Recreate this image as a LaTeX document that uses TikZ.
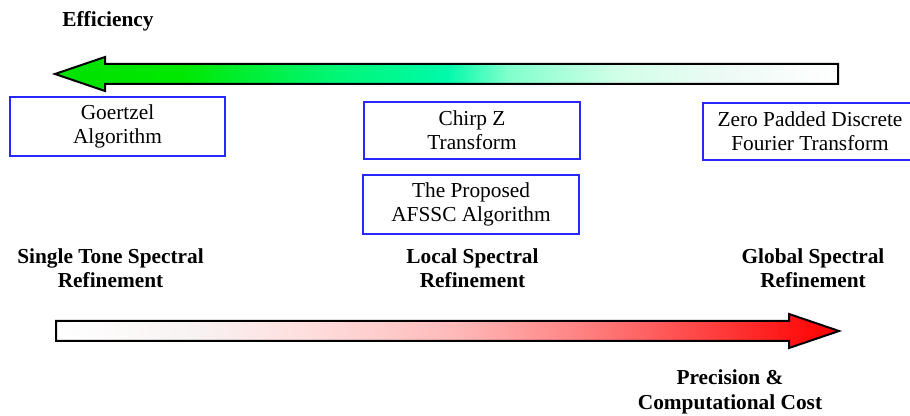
\documentclass[tikz,border=0pt]{standalone}
\usepackage{fontspec}
\setmainfont{Liberation Serif}
\definecolor{boxblue}{RGB}{40,40,250}
\definecolor{effA}{RGB}{0,225,0}
\definecolor{effB}{RGB}{0,232,0}
\definecolor{effC}{RGB}{0,245,110}
\definecolor{effD}{RGB}{0,250,170}
\definecolor{effE}{RGB}{130,255,205}
\definecolor{effF}{RGB}{210,255,232}
\definecolor{effG}{RGB}{238,250,246}
\definecolor{costA}{RGB}{248,242,242}
\definecolor{costB}{RGB}{255,222,222}
\definecolor{costC}{RGB}{255,185,185}
\definecolor{costD}{RGB}{255,130,130}
\definecolor{costE}{RGB}{255,70,70}
\definecolor{costF}{RGB}{255,20,20}
\definecolor{costG}{RGB}{255,0,0}
\pgfdeclarehorizontalshading{effshade}{100bp}{color(0bp)=(effA); color(25bp)=(effA); color(33bp)=(effB); color(42bp)=(effC); color(50bp)=(effD); color(54bp)=(effE); color(61bp)=(effF); color(68bp)=(effG); color(75bp)=(white); color(100bp)=(white)}
\pgfdeclarehorizontalshading{costshade}{100bp}{color(0bp)=(white); color(25bp)=(white); color(34bp)=(costA); color(41bp)=(costB); color(50.5bp)=(costC); color(58.5bp)=(costD); color(66bp)=(costE); color(72bp)=(costF); color(75bp)=(costG); color(100bp)=(costG)}
\begin{document}
\begin{tikzpicture}[x=0.75pt,y=-0.75pt,
  txt/.style={font=\fontsize{16}{18}\selectfont, inner sep=0pt, align=center},
  lab/.style={txt, font=\fontsize{16}{18}\selectfont\bfseries},
  algbox/.style={txt, draw=boxblue, line width=1.5pt},
  bigarrow/.style={draw=black, line width=1.5pt, line join=miter}]
\useasboundingbox (0,0) rectangle (910,416);
% efficiency arrow
\path[bigarrow, shading=effshade]
  (838,64) -- (105,64) -- (105,57) -- (55,74) -- (105,91) -- (105,84) -- (838,84) -- cycle;
% cost arrow
\path[bigarrow, shading=costshade]
  (56,321) -- (789,321) -- (789,314) -- (839,331) -- (789,348) -- (789,341) -- (56,341) -- cycle;
% labels (base anchor = baseline of the last line)
\node[lab, anchor=base] (eff) at (108,27) {Efficiency};
\node[lab, anchor=base] (single) at (110.5,288) {Single Tone Spectral\\Refinement};
\node[lab, anchor=base] (local) at (472.5,288) {Local Spectral\\Refinement};
\node[lab, anchor=base] (global) at (813,288) {Global Spectral\\Refinement};
\node[lab, anchor=base] (cost) at (730,409) {Precision \&\\Computational Cost};
% boxes
\node[algbox, minimum width=215*0.75pt, minimum height=59*0.75pt] (goertzel) at (117.5,126.5) {Goertzel\\Algorithm};
\node[algbox, minimum width=216*0.75pt, minimum height=57*0.75pt] (chirp) at (472,130.5) {Chirp Z\\Transform};
\node[algbox, minimum width=214*0.75pt, minimum height=57*0.75pt] (zero) at (810,131.5) {Zero Padded Discrete\\Fourier Transform};
\node[algbox, minimum width=216*0.75pt, minimum height=59*0.75pt] (afssc) at (471,204.5) {The Proposed\\AFSSC Algorithm};
\end{tikzpicture}
\end{document}
